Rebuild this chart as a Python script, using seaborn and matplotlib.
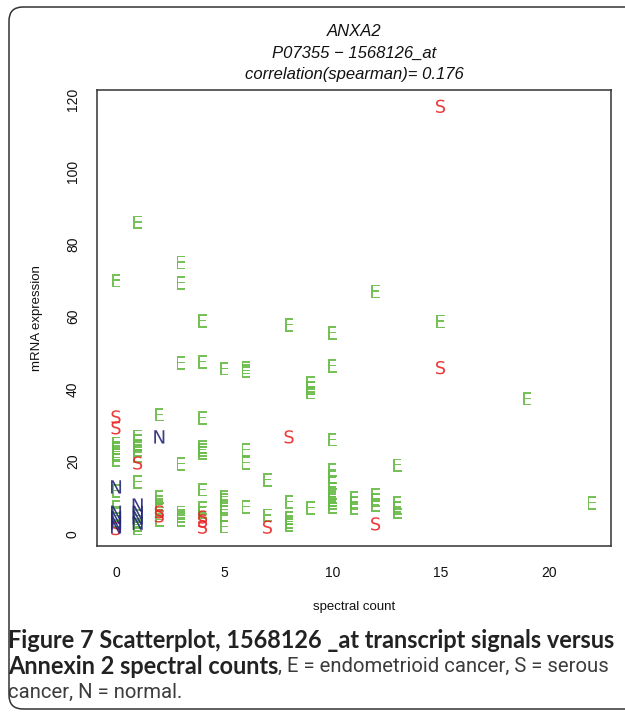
import matplotlib
matplotlib.use("Agg")
import matplotlib.pyplot as plt
import seaborn as sns
import pandas as pd
from matplotlib.patches import FancyBboxPatch

# ---------------- data ----------------
e_x = ([0]*10 + [1]*11 + [2]*6 + [3]*7 + [4]*9 + [5]*6 + [6]*5 + [7]*2 + [8]*5
       + [9]*4 + [10]*11 + [11]*3 + [12]*4 + [13]*4 + [15] + [19] + [22])
e_y = [69.9, 25, 23.8, 22.7, 21.8, 20.4, 11.9, 7.5, 5.5, 3.5,
       86, 27, 25.7, 24.3, 23, 21.5, 14.4, 5, 3.5, 2.5, 1.5,
       32.9, 10.2, 9, 8, 6.6, 3.9,
       74.9, 69.3, 47.2, 19.3, 6, 5, 3.9,
       58.8, 47.5, 32, 24, 23.2, 22.4, 12.2, 7.2, 6,
       45.6, 10.2, 9.4, 7.5, 5.2, 2,
       45.9, 45, 23.2, 19.6, 7.5,
       14.9, 5.2,
       57.7, 8.8, 4.4, 3.3, 2.5,
       41.7, 40.3, 39, 7.2,
       55.5, 46.4, 26, 17.7, 15.7, 14, 11.3, 10.2, 9.4, 8.6, 7.5,
       9.9, 8.6, 7.2,
       66.9, 10.8, 9.4, 8,
       19, 8.6, 7.2, 6,
       58.6, 37.3, 8.6]
s_x = [0, 0, 0, 1, 2, 2, 4, 4, 4, 7, 8, 12, 15, 15]
s_y = [32.3, 29.3, 1.5, 19.6, 6.1, 5, 4.7, 3.6, 1.9, 1.9, 26.8, 2.8, 118, 45.9]
n_x = [0, 0, 0, 0, 0, 1, 1, 1, 1, 2]
n_y = [13, 6, 4.5, 3, 2, 8, 6, 4.5, 3, 26.8]

x_ticks = [0, 5, 10, 15, 20]
y_ticks = [0, 20, 40, 60, 80, 100, 120]
title_lines = ["ANXA2", "P07355 \u2212 1568126_at", "correlation(spearman)= 0.176"]
x_label = "spectral count"
y_label = "mRNA expression"
cap1 = "Figure 7 Scatterplot, 1568126 _at transcript signals versus"
cap2_bold = "Annexin 2 spectral counts"
cap2_reg = ", E = endometrioid cancer, S = serous"
cap3 = "cancer, N = normal."

df = pd.DataFrame({
    "spectral": e_x + s_x + n_x,
    "mrna": e_y + s_y + n_y,
    "group": ["E"]*len(e_x) + ["S"]*len(s_x) + ["N"]*len(n_x),
})

# ---------------- figure ----------------
sns.set_style("white")
plt.rcParams["font.family"] = ["Liberation Sans", "DejaVu Sans"]
W, H = 625, 713
fig = plt.figure(figsize=(W/100, H/100), dpi=100)

def fx(px): return px / W
def fy(py): return 1 - py / H

ax = fig.add_axes([fx(97), fy(546), fx(611) - fx(97), fy(90) - fy(546)])

palette = {"E": "#66bb46", "S": "#ec2424", "N": "#25257a"}
markers = {"E": r"$\mathsf{E}$", "S": r"$\mathsf{S}$", "N": r"$\mathsf{N}$"}
sns.scatterplot(data=df, x="spectral", y="mrna", hue="group", style="group",
                palette=palette, markers=markers, s=92, linewidth=0,
                alpha=0.9, legend=False, ax=ax)

ax.set_xlim(-0.88, 22.88)
ax.set_ylim(-3.3, 122.5)
ax.set_xticks(x_ticks)
ax.set_yticks(y_ticks)
ax.set_xticklabels([str(t) for t in x_ticks], fontsize=10)
ax.set_yticklabels([str(t) for t in y_ticks], fontsize=10, rotation=90, va="center")
ax.tick_params(axis="both", direction="out", length=6.3, width=0.9, color="#222222",
               labelcolor="#111111")
ax.tick_params(axis="x", pad=8)
ax.tick_params(axis="y", pad=6)
ax.set_xlabel("")
ax.set_ylabel("")
for sp in ax.spines.values():
    sp.set_visible(True)
    sp.set_color("#333333")
    sp.set_linewidth(1.1)

# titles
for i, line in enumerate(title_lines):
    fig.text(fx(354), fy(32 + 21*i), line, ha="center", va="center",
             fontsize=12, style="italic", color="#111111")

fig.text(fx(354), fy(607), x_label, ha="center", va="center", fontsize=9.5, color="#111111")
fig.text(fx(37), fy(318), y_label, ha="center", va="center", rotation=90,
         fontsize=9.5, color="#111111")

# caption
bold_font = ["Lato", "DejaVu Sans"]
reg_font = ["Roboto", "DejaVu Sans"]
renderer = fig.canvas.get_renderer()

def width_at10(txt, weight, fam):
    p = fig.text(0, 0, txt, fontsize=10, fontweight=weight, family=fam)
    w = p.get_window_extent(renderer).width
    p.remove()
    return w

bold_size = 10 * (609 / width_at10(cap1, "bold", bold_font))
reg_size = 10 * (331 / width_at10(cap2_reg, "normal", reg_font))

x0 = fx(8)
fig.text(x0, fy(640), cap1, ha="left", va="center", fontsize=bold_size,
         fontweight="bold", family=bold_font, color="#222222")
tb = fig.text(x0, fy(666), cap2_bold, ha="left", va="center", fontsize=bold_size,
              fontweight="bold", family=bold_font, color="#222222")
bw = tb.get_window_extent(renderer).width
fig.text(x0 + bw / W, fy(666), cap2_reg, ha="left", va="center", fontsize=reg_size,
         fontweight="normal", family=reg_font, color="#3c3c3c")
fig.text(x0, fy(692), cap3, ha="left", va="center", fontsize=reg_size,
         fontweight="normal", family=reg_font, color="#3c3c3c")

# rounded outer frame
frame = FancyBboxPatch((0.09, 0.04), 7.0 - 0.09, (713 - 7) / 100 - 0.04,
                       boxstyle="round,pad=0,rounding_size=0.14",
                       transform=fig.dpi_scale_trans, fill=False,
                       edgecolor="#333333", linewidth=1.1, clip_on=False)
fig.patches.append(frame)

fig.savefig("out.png", dpi=100)
